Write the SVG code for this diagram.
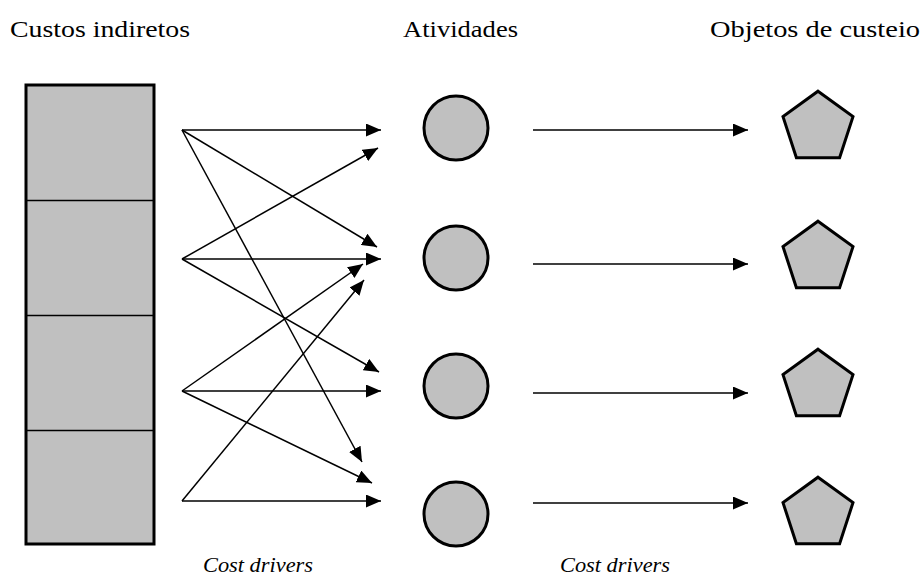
<svg xmlns="http://www.w3.org/2000/svg" width="923" height="579" viewBox="0 0 923 579">
<defs>
<style>
.t{font-size:24px;fill:#000}
.i{font-size:22px;font-style:italic;fill:#000}
.shape{fill:#c0c0c0;stroke:#000;stroke-width:3}
.div{stroke:#000;stroke-width:1.5}
.c line{stroke:#000;stroke-width:1.5;marker-end:url(#ah)}
</style>
<marker id="ah" markerUnits="userSpaceOnUse" markerWidth="15" markerHeight="13" refX="15" refY="6.5" orient="auto" viewBox="0 0 15 13">
<path d="M0,0 L15,6.5 L0,13 z" fill="#000"/>
</marker>
<polygon id="pent" points="0,-36.8 35,-11.4 21.6,29.8 -21.6,29.8 -35,-11.4"/>
</defs>
<rect width="923" height="579" fill="#fff"/>
<g id="headers" font-family="'Liberation Serif', 'DejaVu Serif', serif">
<text class="t" x="10" y="37" textLength="180" lengthAdjust="spacingAndGlyphs">Custos indiretos</text>
<text class="t" x="403" y="37" textLength="115" lengthAdjust="spacingAndGlyphs">Atividades</text>
<text class="t" x="710" y="37" textLength="210" lengthAdjust="spacingAndGlyphs">Objetos de custeio</text>
</g>
<g id="custos">
<rect class="shape" x="26" y="85" width="128" height="459"/>
<line class="div" x1="26" y1="200.5" x2="154" y2="200.5"/>
<line class="div" x1="26" y1="315.5" x2="154" y2="315.5"/>
<line class="div" x1="26" y1="430.5" x2="154" y2="430.5"/>
</g>
<g id="atividade1"><circle class="shape" cx="456" cy="128" r="32"/></g>
<g id="atividade2"><circle class="shape" cx="456" cy="258" r="32"/></g>
<g id="atividade3"><circle class="shape" cx="456" cy="386" r="32"/></g>
<g id="atividade4"><circle class="shape" cx="456" cy="514" r="32"/></g>
<g id="objeto1"><use href="#pent" class="shape" x="818" y="128"/></g>
<g id="objeto2"><use href="#pent" class="shape" x="818" y="258"/></g>
<g id="objeto3"><use href="#pent" class="shape" x="818" y="386"/></g>
<g id="objeto4"><use href="#pent" class="shape" x="818" y="514"/></g>
<g id="connectors" class="c">
<line x1="182" y1="130" x2="381" y2="130"/>
<line x1="182" y1="130" x2="377" y2="247"/>
<line x1="182" y1="130" x2="362" y2="462"/>
<line x1="182" y1="259" x2="378" y2="148"/>
<line x1="182" y1="259" x2="381" y2="259"/>
<line x1="182" y1="259" x2="379" y2="372"/>
<line x1="182" y1="391" x2="363" y2="264"/>
<line x1="182" y1="391" x2="381" y2="391"/>
<line x1="182" y1="391" x2="372" y2="483"/>
<line x1="182" y1="501" x2="364" y2="280"/>
<line x1="182" y1="501" x2="381" y2="501"/>
<line x1="533" y1="130" x2="748" y2="130"/>
<line x1="533" y1="264" x2="748" y2="264"/>
<line x1="533" y1="393" x2="748" y2="393"/>
<line x1="533" y1="503" x2="748" y2="503"/>
</g>
<g id="labels" font-family="'Liberation Serif', 'DejaVu Serif', serif">
<text class="i" x="203" y="572" textLength="110" lengthAdjust="spacingAndGlyphs">Cost drivers</text>
<text class="i" x="560" y="572" textLength="110" lengthAdjust="spacingAndGlyphs">Cost drivers</text>
</g>
</svg>
